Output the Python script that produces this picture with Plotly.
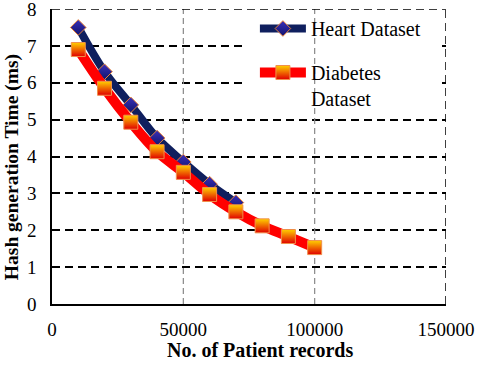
import plotly.graph_objects as go

records = [10000, 20000, 30000, 40000, 50000, 60000, 70000, 80000, 90000, 100000]
heart_ms = [7.5, 6.3, 5.4, 4.5, 3.85, 3.25, 2.75]
diabetes_ms = [6.9, 5.85, 4.93, 4.13, 3.57, 2.97, 2.5, 2.12, 1.83, 1.53]
y_ticks = [0, 1, 2, 3, 4, 5, 6, 7, 8]
x_ticks = [0, 50000, 100000, 150000]

FONT = "Liberation Serif"

fig = go.Figure()

fig.add_trace(go.Scatter(
    x=records[:len(heart_ms)], y=heart_ms,
    mode="lines+markers", name="Heart Dataset", legendgroup="h",
    line=dict(color="#0f1f5e", width=8, shape="spline"),
    marker=dict(symbol="diamond", size=12, color="#3a30b8",
                gradient=dict(type="vertical", color="#12146e"),
                line=dict(color="#e8823a", width=1)),
))

fig.add_trace(go.Scatter(
    x=records, y=diabetes_ms,
    mode="lines+markers", name="Diabetes<br>Dataset", legendgroup="d",
    line=dict(color="#ff0000", width=10, shape="spline"),
    marker=dict(symbol="square", size=14, color="#ffd000",
                gradient=dict(type="vertical", color="#e00000"),
                line=dict(color="#f0904a", width=1)),
))

# white patch behind the legend hides the horizontal grid there
fig.add_shape(type="rect", xref="x", yref="y", x0=73500, x1=147000, y0=5.3, y1=8,
              fillcolor="white", line_width=0, layer="between")
for xv in x_ticks[1:3]:
    fig.add_shape(type="line", xref="x", yref="y", x0=xv, x1=xv, y0=0, y1=8,
                  line=dict(color="#888888", width=1.2, dash="6px,4px"), layer="between")
# dashed top / right frame
fig.add_shape(type="line", xref="x", yref="y", x0=0, x1=150000, y0=8, y1=8,
              line=dict(color="black", width=1.5, dash="8px,5px"), layer="between")
fig.add_shape(type="line", xref="x", yref="y", x0=150000, x1=150000, y0=0, y1=8,
              line=dict(color="black", width=1.5, dash="8px,5px"), layer="between")

fig.update_xaxes(
    range=[0, 150000], tickvals=x_ticks, ticktext=[str(v) for v in x_ticks],
    showgrid=False, zeroline=False, showline=True, linecolor="black", linewidth=1.5,
    ticks="", ticklabelstandoff=7, automargin=False, ticklabeloverflow="allow",
    tickfont=dict(family=FONT, size=19, color="black"),
)
fig.update_yaxes(
    range=[0, 8], tickvals=y_ticks,
    showgrid=True, gridcolor="black", gridwidth=1.5, griddash="8px,5px",
    zeroline=False, showline=True, linecolor="black", linewidth=1.5,
    ticks="", ticklabelstandoff=10, automargin=False, ticklabeloverflow="allow",
    tickfont=dict(family=FONT, size=19, color="black"),
)

# axis titles as annotations: in the original they sit a bit off-centre
fig.add_annotation(
    text="<b>Hash generation Time (ms)</b>", textangle=-90,
    xref="paper", yref="paper", x=-0.1015, y=0.464, xanchor="center", yanchor="middle",
    showarrow=False, font=dict(family=FONT, size=19.5, color="black"),
)
fig.add_annotation(
    text="<b>No. of Patient records</b>",
    xref="paper", yref="paper", x=0.528, y=-0.156, xanchor="center", yanchor="middle",
    showarrow=False, font=dict(family=FONT, size=20, color="black"),
)

fig.update_layout(
    width=480, height=365,
    margin=dict(l=52, r=34, t=9, b=61),
    plot_bgcolor="white", paper_bgcolor="white",
    legend=dict(x=0.515, y=1.0, xanchor="left", yanchor="top",
                bgcolor="rgba(0,0,0,0)", itemwidth=46, valign="top",
                tracegroupgap=15,
                font=dict(family=FONT, size=20, color="black")),
)

# drop the browser's default 8px body margin so the chart fills the window
fig.write_html("out.html", config={"displayModeBar": False},
               post_script="document.body.style.margin='0';")
